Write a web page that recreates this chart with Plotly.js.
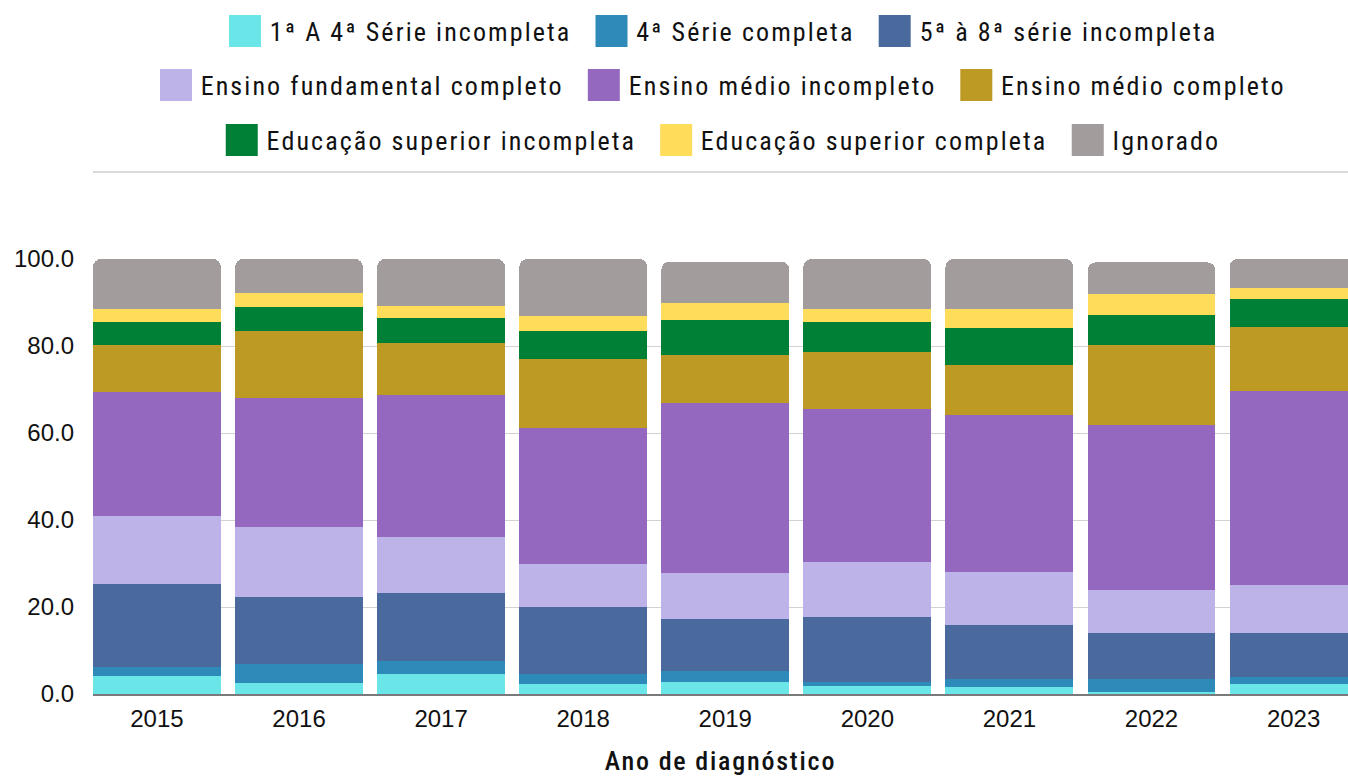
<!DOCTYPE html>
<html>
<head>
<meta charset="utf-8">
<script src="https://cdn.plot.ly/plotly-3.0.1.min.js"></script>
<style>
html,body{margin:0;padding:0;background:#fff;overflow:hidden}
#chart .annotation-text{letter-spacing:2.1px}
#chart .xtitle{letter-spacing:1.8px}
</style>
</head>
<body>
<div id="chart" style="width:1348px;height:776px"></div>
<script>
// ---- Data (percent of cases by schooling, per year of diagnosis) ----
const years = ['2015','2016','2017','2018','2019','2020','2021','2022','2023'];

const seriesNames = [
  '1ª A 4ª Série incompleta',
  '4ª Série completa',
  '5ª à 8ª série incompleta',
  'Ensino fundamental completo',
  'Ensino médio incompleto',
  'Ensino médio completo',
  'Educação superior incompleta',
  'Educação superior completa',
  'Ignorado'
];

const serie1a4Incompleta      = [4.2, 2.6, 4.7, 2.4, 2.8, 1.9, 1.7, 0.5, 2.4];
const serie4Completa          = [1.9, 4.4, 2.8, 2.1, 2.5, 0.9, 1.8, 3.0, 1.6];
const serie5a8Incompleta      = [19.3, 15.3, 15.7, 15.4, 12.0, 14.9, 12.4, 10.6, 10.1];
const fundamentalCompleto     = [15.6, 16.1, 12.8, 9.9, 10.6, 12.6, 12.2, 9.9, 11.0];
const medioIncompleto         = [28.5, 29.7, 32.7, 31.3, 39.1, 35.2, 36.1, 37.9, 44.6];
const medioCompleto           = [10.7, 15.3, 12.1, 15.9, 11.0, 13.1, 11.5, 18.4, 14.7];
const superiorIncompleta      = [5.4, 5.5, 5.7, 6.4, 8.0, 6.9, 8.5, 6.9, 6.4];
const superiorCompleta        = [2.9, 3.3, 2.8, 3.4, 3.9, 3.0, 4.4, 4.8, 2.5];
const ignorado                = [11.5, 7.8, 10.7, 13.2, 9.5, 11.5, 11.4, 7.2, 6.7];

const yTickVals = [0, 20, 40, 60, 80, 100];
const yTickText = ['0.0', '20.0', '40.0', '60.0', '80.0', '100.0'];

const xAxisTitle = 'Ano de diagnóstico';

// ---- Styles ----
const seriesValues = [serie1a4Incompleta, serie4Completa, serie5a8Incompleta, fundamentalCompleto,
  medioIncompleto, medioCompleto, superiorIncompleta, superiorCompleta, ignorado];
const colors = ['#6ae5e8', '#2e8ab9', '#4a6a9e', '#bdb3e9', '#9368be', '#bc9a23', '#008037', '#ffdc5a', '#a29c9c'];

const W = 1348, H = 776;
const PL = 93, PR = 1348, PT = 259, PB = 694;
const px2x = p => (p - PL) / (PR - PL);
const py2y = p => (PB - p) / (PB - PT);

const legendFont = '"Roboto Condensed","DejaVu Sans Condensed","Liberation Sans Narrow","Noto Sans",sans-serif';
const tickFont = '"Liberation Sans",Arial,sans-serif';
const legendSize = 26;
const LETTER = 2.1;

const cv = document.createElement('canvas');
const ctx = cv.getContext('2d');
function measure(text, size) {
  ctx.font = size + 'px ' + legendFont;
  return ctx.measureText(text).width + LETTER * (Array.from(text).length - 1);
}

const traces = seriesNames.map((name, i) => ({
  type: 'bar',
  name: name,
  x: years,
  y: seriesValues[i],
  marker: {color: colors[i], line: {width: 0}},
  showlegend: false,
  hovertemplate: '%{x}<br>' + name + ': %{y:.1f}%<extra></extra>'
}));

// ---- custom legend (large square swatches, centered rows) ----
const rows = [[0, 1, 2], [3, 4, 5], [6, 7, 8]];
const rowY = [31, 85, 140];
const SQ = 32, GAP_T = 9, GAP_I = 26, CX = 722;
const shapes = [];
const annotations = [];
rows.forEach((row, r) => {
  const widths = row.map(i => measure(seriesNames[i], legendSize));
  const total = widths.reduce((a, w) => a + SQ + GAP_T + w, 0) + GAP_I * (row.length - 1);
  let x = CX - total / 2;
  row.forEach((i, k) => {
    shapes.push({type: 'rect', xref: 'paper', yref: 'paper',
      x0: px2x(x), x1: px2x(x + SQ), y0: py2y(rowY[r] + SQ / 2), y1: py2y(rowY[r] - SQ / 2),
      fillcolor: colors[i], line: {width: 0}, layer: 'above'});
    const tx = x + SQ + GAP_T;
    annotations.push({xref: 'paper', yref: 'paper', x: px2x(tx + widths[k] / 2 + LETTER / 2), y: py2y(rowY[r] + 1),
      xanchor: 'center', yanchor: 'middle', showarrow: false, text: seriesNames[i],
      font: {family: legendFont, size: legendSize, color: '#111'}});
    x += SQ + GAP_T + widths[k] + GAP_I;
  });
});
// separator line under the legend
shapes.push({type: 'line', xref: 'paper', yref: 'paper', x0: 0, x1: 1, y0: py2y(172), y1: py2y(172),
  line: {color: '#d9d9d9', width: 2}});

const layout = {
  width: W, height: H,
  margin: {l: PL, r: W - PR, t: PT, b: H - PB, pad: 0},
  paper_bgcolor: '#ffffff', plot_bgcolor: '#ffffff',
  barmode: 'stack', bargap: 0.1, barcornerradius: 8,
  showlegend: false,
  xaxis: {
    type: 'category', range: [-0.45, 8.383], fixedrange: true,
    showgrid: false, showline: true, linecolor: '#7a7a7a', linewidth: 1.5,
    ticks: '', ticklabelstandoff: 2, layer: 'below traces',
    tickfont: {family: tickFont, size: 24, color: '#111'},
    title: {text: xAxisTitle, standoff: 28, font: {family: legendFont, size: 26, color: '#111', weight: 500}}
  },
  yaxis: {
    range: [0, 100], tickvals: yTickVals, ticktext: yTickText, fixedrange: true,
    showgrid: true, gridcolor: '#d2d2d2', gridwidth: 1, zeroline: false,
    showline: false, ticks: '', ticklabelstandoff: 18, layer: 'below traces',
    tickfont: {family: tickFont, size: 24, color: '#111'}
  },
  shapes: shapes,
  annotations: annotations
};

Plotly.newPlot('chart', traces, layout, {displayModeBar: false, responsive: false});
</script>
</body>
</html>
